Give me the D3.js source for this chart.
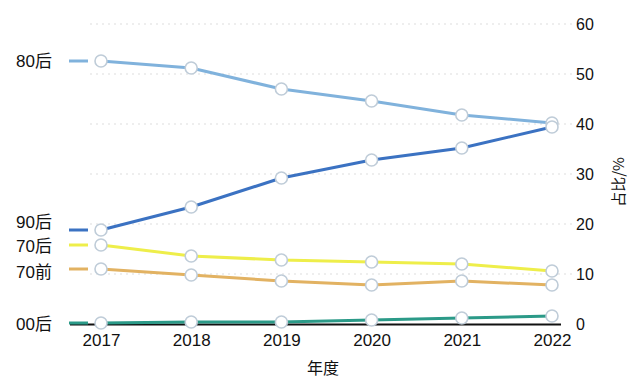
<!DOCTYPE html>
<html><head><meta charset="utf-8">
<script src="https://cdn.jsdelivr.net/npm/d3@7"></script>
<style>body{margin:0;background:#fff}svg{display:block}</style>
</head><body>
<svg id="c" width="641" height="381"></svg>
<script>
const years = ["2017","2018","2019","2020","2021","2022"];
const seriesNames = ["80后","90后","70后","70前","00后"];
const s80 = [52.6, 51.2, 47.0, 44.6, 41.8, 40.2];
const s90 = [18.8, 23.4, 29.2, 32.8, 35.2, 39.4];
const s70 = [15.8, 13.6, 12.8, 12.4, 12.0, 10.6];
const s70q = [11.0, 9.8, 8.6, 7.8, 8.6, 7.8];
const s00 = [0.2, 0.4, 0.4, 0.8, 1.2, 1.6];
const yTicks = [0,10,20,30,40,50,60];
const colors = ["#80b2dc","#3b72c2","#eeee4a","#e2b262","#2b9a88"];
const labelDy = [0,-8,1,3,1];

const series = [s80,s90,s70,s70q,s00];
const svg = d3.select("#c");
const x = d3.scalePoint().domain(years).range([101,552]);
const y = d3.scaleLinear().domain([0,60]).range([324,24]);
const font = "'Liberation Sans', Arial, 'Noto Sans CJK SC', sans-serif";

// gridlines
svg.append("g").selectAll("line").data(yTicks.filter(d=>d>0)).join("line")
  .attr("x1",90).attr("x2",573).attr("y1",d=>y(d)).attr("y2",d=>y(d))
  .attr("stroke","#dedede").attr("stroke-width",1.2).attr("stroke-dasharray","2,4");

// x axis
const xa = svg.append("g").attr("transform","translate(0,324)")
  .call(d3.axisBottom(x).tickSize(0).tickPadding(10));
xa.select(".domain").remove();
xa.selectAll("text").attr("font-size",17).attr("font-family",font).attr("fill","#111");
svg.append("line").attr("x1",70).attr("x2",561).attr("y1",324.5).attr("y2",324.5)
  .attr("stroke","#111").attr("stroke-width",2);

// right axis
const ya = svg.append("g").attr("transform","translate(566,0)")
  .call(d3.axisRight(y).tickValues(yTicks).tickSize(0).tickPadding(10));
ya.select(".domain").remove();
ya.selectAll("text").attr("font-size",16).attr("font-family",font).attr("fill","#111");

// lines
const line = d3.line().x((d,i)=>x(years[i])).y(d=>y(d));
series.forEach((s,k)=>{
  svg.append("path").datum(s).attr("d",line).attr("fill","none")
    .attr("stroke",colors[k]).attr("stroke-width",3).attr("stroke-linejoin","round");
});
series.forEach((s,k)=>{
  svg.append("g").selectAll("circle").data(s).join("circle")
    .attr("cx",(d,i)=>x(years[i])).attr("cy",d=>y(d)).attr("r",6)
    .attr("fill","#fff").attr("stroke","#bfccd8").attr("stroke-width",1.6);
});

// legend labels at start
series.forEach((s,k)=>{
  const yy = y(s[0]);
  svg.append("line").attr("x1",69).attr("x2",88).attr("y1",yy).attr("y2",yy)
    .attr("stroke",colors[k]).attr("stroke-width",3);
  svg.append("text").attr("x",52).attr("y",yy+labelDy[k]).attr("dy","0.35em")
    .attr("text-anchor","end").attr("font-size",17).attr("font-family",font)
    .attr("fill","#111").text(seriesNames[k]);
});

// axis titles
svg.append("text").attr("x",323).attr("y",374).attr("text-anchor","middle")
  .attr("font-size",16).attr("font-family","'Noto Sans CJK SC', sans-serif").attr("fill","#111").text("年度");
svg.append("text").attr("transform","translate(624,182) rotate(-90)").attr("text-anchor","middle")
  .attr("font-size",15).attr("font-family","'Noto Sans CJK SC', sans-serif").attr("fill","#111").text("占比/%");
</script>
</body></html>
